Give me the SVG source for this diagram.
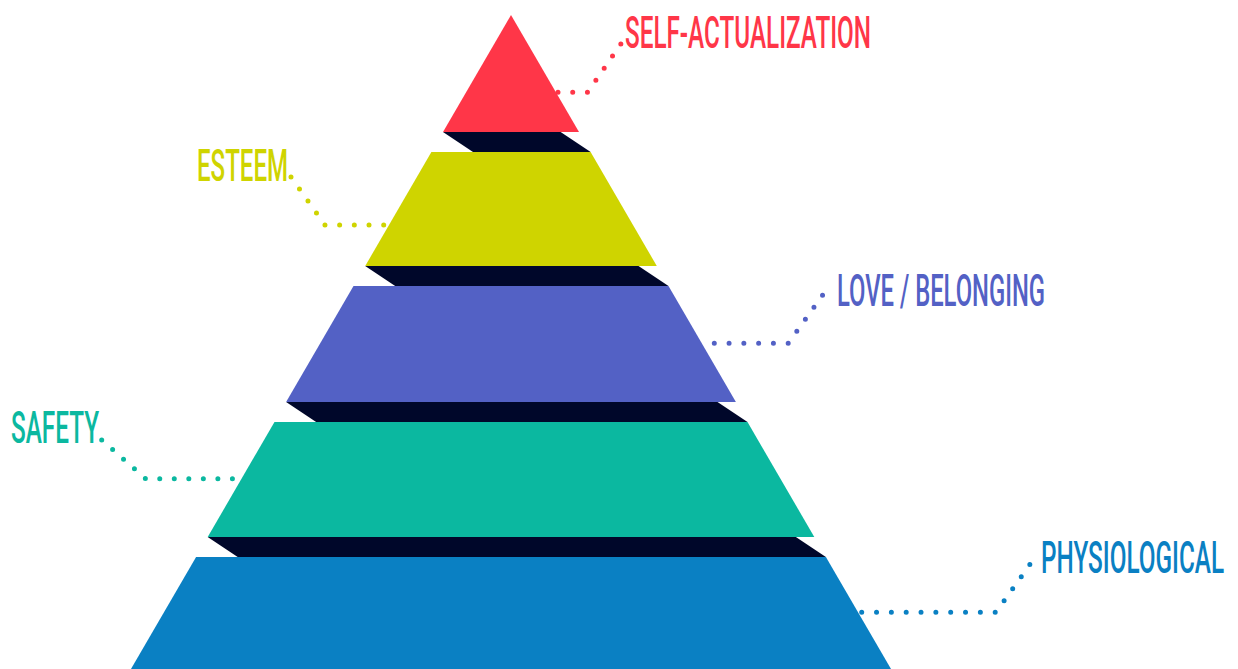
<svg xmlns="http://www.w3.org/2000/svg" width="1238" height="669" viewBox="0 0 1238 669">
<style>
.shadow{fill:#00072A}
.lbl{font-family:Roboto,"Liberation Sans",sans-serif;font-weight:500;font-size:25.6px}
.dots{fill:none;stroke-width:5;stroke-linecap:round;stroke-linejoin:round;stroke-dasharray:0 1}
</style>
<rect width="1238" height="669" fill="#FFFFFF"/>
<g id="connectors">
<path class="dots" stroke="#FF3648" pathLength="6.02" d="M558,92.3 H587.7 L621,43.7"/>
<path class="dots" stroke="#CFD400" pathLength="8.02" d="M291,177 L325,225 H384"/>
<path class="dots" stroke="#5361C5" pathLength="9.02" d="M714.3,343.3 H788.3 L822.7,295"/>
<path class="dots" stroke="#0BB8A0" pathLength="10.02" d="M101.7,440 L145.7,478.7 H232.7"/>
<path class="dots" stroke="#0A80C3" pathLength="13.02" d="M861.7,612.3 H996 L1030,564.3"/>
</g>
<g id="shadows">
<polygon class="shadow" points="443,132 560.6,132 590.6,152 473,152"/>
<polygon class="shadow" points="365.2,266 638.5,266 668.5,286 395.2,286"/>
<polygon class="shadow" points="286.1,402 717.5,402 747.5,422 316.1,422"/>
<polygon class="shadow" points="207.7,537 795.9,537 825.9,557 237.7,557"/>
</g>
<g id="self-actualization">
<polygon fill="#FF3648" points="511,15 579,132 443,132"/>
<text class="lbl" fill="#FF3648" transform="translate(625,47.7) scale(1,1.7)" textLength="246" lengthAdjust="spacingAndGlyphs">SELF-ACTUALIZATION</text>
</g>
<g id="esteem">
<polygon fill="#CFD400" points="431.4,152 590.6,152 656.8,266 365.2,266"/>
<text class="lbl" fill="#CFD400" transform="translate(197,180.7) scale(1,1.7)" textLength="91" lengthAdjust="spacingAndGlyphs">ESTEEM</text>
</g>
<g id="love-belonging">
<polygon fill="#5361C5" points="353.5,286 668.5,286 735.9,402 286.1,402"/>
<text class="lbl" fill="#5361C5" transform="translate(837,305.7) scale(1,1.7)" textLength="208" lengthAdjust="spacingAndGlyphs">LOVE / BELONGING</text>
</g>
<g id="safety">
<polygon fill="#0BB8A0" points="274.5,422 747.5,422 814.3,537 207.7,537"/>
<text class="lbl" fill="#0BB8A0" transform="translate(11,442.7) scale(1,1.7)" textLength="88" lengthAdjust="spacingAndGlyphs">SAFETY</text>
</g>
<g id="physiological">
<polygon fill="#0A80C3" points="196.1,557 825.9,557 891.6,670 130.4,670"/>
<text class="lbl" fill="#0A80C3" transform="translate(1041,573.3) scale(1,1.7)" textLength="183" lengthAdjust="spacingAndGlyphs">PHYSIOLOGICAL</text>
</g>
</svg>
